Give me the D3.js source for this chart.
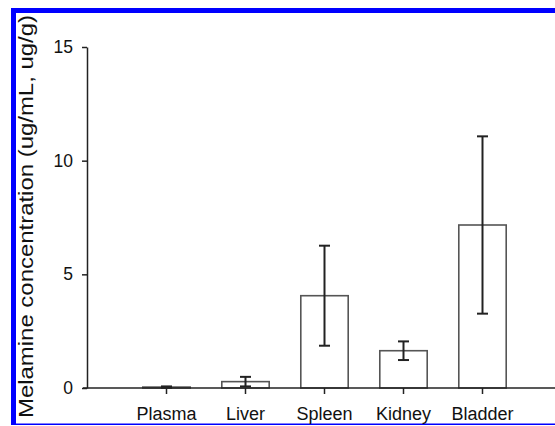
<!DOCTYPE html>
<html>
<head>
<meta charset="utf-8">
<title>Melamine concentration</title>
<style>
    body { margin: 0; background: #fff; }
    text { font-family: "Liberation Sans", Arial, sans-serif; fill: #111; }
    .bar { fill: #fff; stroke: #555; stroke-width: 1.6; }
    .err { stroke: #222; stroke-width: 2; fill: none; }
    .axis path, .axis line { stroke: #222; stroke-width: 1.5; }
</style>
<script src="https://cdn.jsdelivr.net/npm/d3@7"></script>
</head>
<body>
<script>
// data
var tissues = ["Plasma", "Liver", "Spleen", "Kidney", "Bladder"];
var means = [0.04, 0.28, 4.06, 1.64, 7.17];
var sds = [0.03, 0.21, 2.2, 0.41, 3.9];
var yTicks = [0, 5, 10, 15];

var W = 555, H = 426;

var svg = d3.select("body").append("svg")
    .attr("width", W)
    .attr("height", H);

// blue frame
svg.append("rect").attr("x", 11).attr("y", 8).attr("width", W - 11).attr("height", 5).attr("fill", "#0000ff");
svg.append("rect").attr("x", 11).attr("y", 8).attr("width", 5).attr("height", 417).attr("fill", "#0000ff");
svg.append("rect").attr("x", 11).attr("y", 423.5).attr("width", W - 11).attr("height", 1.5).attr("fill", "#0000ff");

// scales
var x = d3.scaleBand()
    .domain(tissues)
    .range([127, 522])
    .paddingInner(0.4)
    .paddingOuter(0.2);
var y = d3.scaleLinear()
    .domain([0, 15])
    .range([388, 47]);

// bars
svg.selectAll(".bar")
    .data(tissues)
    .enter().append("rect")
    .attr("class", "bar")
    .attr("x", function(d) { return x(d); })
    .attr("width", x.bandwidth())
    .attr("y", function(d, i) { return y(means[i]); })
    .attr("height", function(d, i) { return y(0) - y(means[i]); });

// error bars
var eb = svg.selectAll(".eb")
    .data(tissues)
    .enter().append("g")
    .attr("class", "err");
eb.append("line")
    .attr("x1", function(d) { return x(d) + x.bandwidth() / 2; })
    .attr("x2", function(d) { return x(d) + x.bandwidth() / 2; })
    .attr("y1", function(d, i) { return y(means[i] - sds[i]); })
    .attr("y2", function(d, i) { return y(means[i] + sds[i]); });
[-1, 1].forEach(function(s) {
    eb.append("line")
        .attr("x1", function(d) { return x(d) + x.bandwidth() / 2 - 5.5; })
        .attr("x2", function(d) { return x(d) + x.bandwidth() / 2 + 5.5; })
        .attr("y1", function(d, i) { return y(means[i] + s * sds[i]); })
        .attr("y2", function(d, i) { return y(means[i] + s * sds[i]); });
});

// y axis
var yAxis = svg.append("g")
    .attr("class", "axis")
    .attr("transform", "translate(87,0)")
    .call(d3.axisLeft(y).tickValues(yTicks).tickSize(5).tickSizeOuter(0).tickPadding(9));
yAxis.selectAll("text").style("font-size", "17.5px").attr("font-family", null);

// x axis
var xAxis = svg.append("g")
    .attr("class", "axis")
    .attr("transform", "translate(0,388)")
    .call(d3.axisBottom(x).tickSize(6).tickSizeOuter(0).tickPadding(13));
xAxis.select(".domain").remove();
xAxis.append("line")
    .attr("x1", 83).attr("x2", W)
    .attr("y1", 0).attr("y2", 0);
xAxis.selectAll("text").style("font-size", "18px").attr("font-family", null);

// axis title
svg.append("text")
    .attr("transform", "translate(32.5,418) rotate(-90)")
    .attr("textLength", 403)
    .attr("lengthAdjust", "spacingAndGlyphs")
    .style("font-size", "20.5px")
    .text("Melamine concentration (ug/mL, ug/g)");
</script>
</body>
</html>
